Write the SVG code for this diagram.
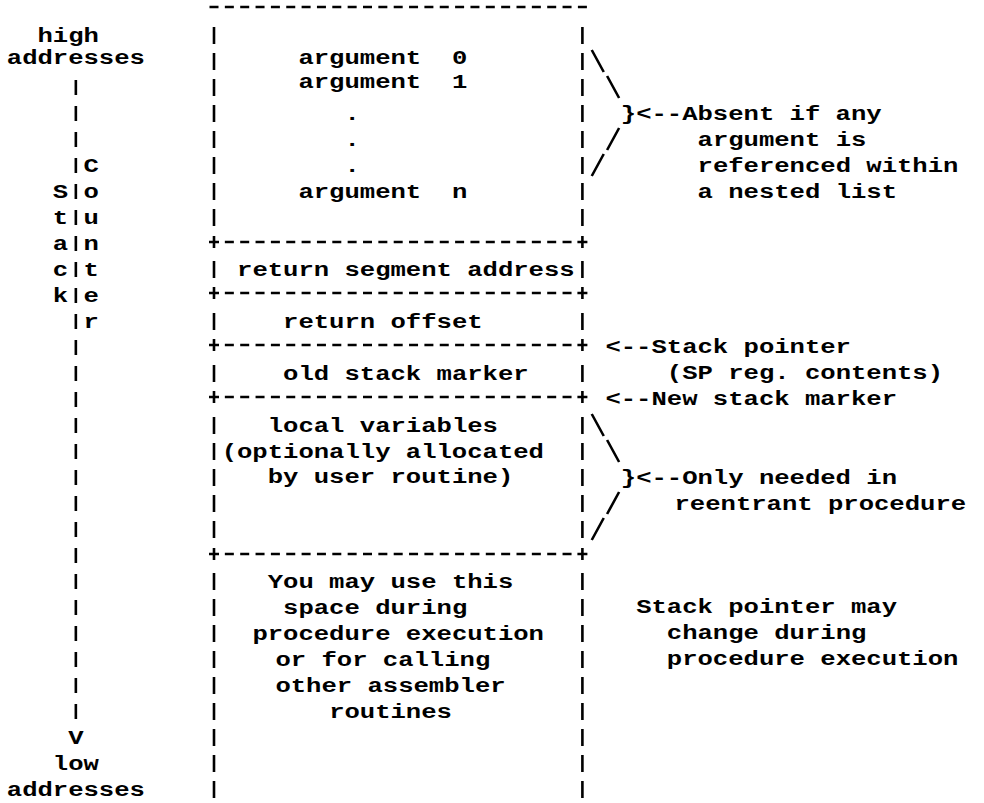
<svg xmlns="http://www.w3.org/2000/svg" width="984" height="803" viewBox="0 0 984 803">
<style>
.t{font-family:"Liberation Mono","DejaVu Sans Mono",monospace;font-size:20px;font-weight:bold;fill:#000;white-space:pre}
.ln{stroke:#000;stroke-width:2.6;fill:none}
.dash{stroke:#000;stroke-width:2.6;fill:none;stroke-dasharray:9 6.35}
.axis{stroke:#000;stroke-width:2.6;fill:none;stroke-dasharray:15 11}
</style>
<defs>
<path id="border" class="ln" d="M0 27V44M0 53V70M0 79V96M0 105V122M0 131V148M0 157V174M0 183V200M0 209V226M0 261V278M0 313V330M0 365V382M0 417V434M0 443V460M0 469V486M0 495V512M0 521V538M0 573V590M0 599V616M0 625V642M0 651V668M0 677V694M0 703V720M0 729V746M0 755V772M0 781V798"/>
<path id="plus" class="ln" d="M-5 0H5M0 -6V6"/>
</defs>
<rect width="984" height="803" fill="#fff"/>

<g id="address-axis">
<text class="t" transform="matrix(1.279 0 0 1 37.48 42)">high</text>
<text class="t" transform="matrix(1.279 0 0 1 6.78 64)">addresses</text>
<text class="t" transform="matrix(1.279 0 0 1 83.53 172)">C</text>
<text class="t" xml:space="preserve" transform="matrix(1.279 0 0 1 52.83 198)">S o</text>
<text class="t" xml:space="preserve" transform="matrix(1.279 0 0 1 52.83 224)">t u</text>
<text class="t" xml:space="preserve" transform="matrix(1.279 0 0 1 52.83 250)">a n</text>
<text class="t" xml:space="preserve" transform="matrix(1.279 0 0 1 52.83 276)">c t</text>
<text class="t" xml:space="preserve" transform="matrix(1.279 0 0 1 52.83 302)">k e</text>
<text class="t" transform="matrix(1.279 0 0 1 83.53 328)">r</text>
<text class="t" transform="matrix(1.279 0 0 1 68.18 744)">V</text>
<text class="t" transform="matrix(1.279 0 0 1 52.83 770)">low</text>
<text class="t" transform="matrix(1.279 0 0 1 6.78 796)">addresses</text>
</g>

<g id="stack-frame">
<g id="frame-outline">
<line class="dash" x1="209.5" y1="7" x2="586.9" y2="7"/>
<use href="#border" transform="translate(214 0)"/>
<use href="#border" transform="translate(582.4 0)"/>
<line class="dash" x1="224.85" y1="242" x2="571.55" y2="242"/>
<line class="dash" x1="224.85" y1="293" x2="571.55" y2="293"/>
<line class="dash" x1="224.85" y1="345" x2="571.55" y2="345"/>
<line class="dash" x1="224.85" y1="397" x2="571.55" y2="397"/>
<line class="dash" x1="224.85" y1="554" x2="571.55" y2="554"/>
<use href="#plus" transform="translate(214 242)"/><use href="#plus" transform="translate(582.4 242)"/>
<use href="#plus" transform="translate(214 293)"/><use href="#plus" transform="translate(582.4 293)"/>
<use href="#plus" transform="translate(214 345)"/><use href="#plus" transform="translate(582.4 345)"/>
<use href="#plus" transform="translate(214 397)"/><use href="#plus" transform="translate(582.4 397)"/>
<use href="#plus" transform="translate(214 554)"/><use href="#plus" transform="translate(582.4 554)"/>
</g>
<g id="cell-arguments">
<text class="t" xml:space="preserve" transform="matrix(1.279 0 0 1 298.43 64)">argument  0</text>
<text class="t" xml:space="preserve" transform="matrix(1.279 0 0 1 298.43 88)">argument  1</text>
<text class="t" transform="matrix(1.279 0 0 1 344.48 120)">.</text>
<text class="t" transform="matrix(1.279 0 0 1 344.48 146)">.</text>
<text class="t" transform="matrix(1.279 0 0 1 344.48 172)">.</text>
<text class="t" xml:space="preserve" transform="matrix(1.279 0 0 1 298.43 198)">argument  n</text>
</g>
<g id="cell-return-segment">
<text class="t" transform="matrix(1.279 0 0 1 237.03 276)">return segment address</text>
</g>
<g id="cell-return-offset">
<text class="t" transform="matrix(1.279 0 0 1 283.08 328)">return offset</text>
</g>
<g id="cell-old-stack-marker">
<text class="t" transform="matrix(1.279 0 0 1 283.08 380)">old stack marker</text>
</g>
<g id="cell-local-variables">
<text class="t" transform="matrix(1.279 0 0 1 267.73 432)">local variables</text>
<text class="t" transform="matrix(1.279 0 0 1 221.68 458)">(optionally allocated</text>
<text class="t" transform="matrix(1.279 0 0 1 267.73 483)">by user routine)</text>
</g>
<g id="cell-free-space">
<text class="t" transform="matrix(1.279 0 0 1 267.73 588)">You may use this</text>
<text class="t" transform="matrix(1.279 0 0 1 283.08 614)">space during</text>
<text class="t" transform="matrix(1.279 0 0 1 252.38 640)">procedure execution</text>
<text class="t" transform="matrix(1.279 0 0 1 275.41 666)">or for calling</text>
<text class="t" transform="matrix(1.279 0 0 1 275.41 692)">other assembler</text>
<text class="t" transform="matrix(1.279 0 0 1 329.13 718)">routines</text>
</g>
</g>

<g id="note-absent">
<text class="t" transform="matrix(1.279 0 0 1 620.78 120)">}&lt;--Absent if any</text>
<text class="t" transform="matrix(1.279 0 0 1 697.53 146)">argument is</text>
<text class="t" transform="matrix(1.279 0 0 1 697.53 172)">referenced within</text>
<text class="t" transform="matrix(1.279 0 0 1 697.53 198)">a nested list</text>
</g>
<g id="note-stack-pointer">
<text class="t" transform="matrix(1.279 0 0 1 605.43 353)">&lt;--Stack pointer</text>
<text class="t" transform="matrix(1.279 0 0 1 666.83 379)">(SP reg. contents)</text>
</g>
<g id="note-new-marker">
<text class="t" transform="matrix(1.279 0 0 1 605.43 405)">&lt;--New stack marker</text>
</g>
<g id="note-reentrant">
<text class="t" transform="matrix(1.279 0 0 1 620.78 484)">}&lt;--Only needed in</text>
<text class="t" transform="matrix(1.279 0 0 1 674.5 510)">reentrant procedure</text>
</g>
<g id="note-sp-change">
<text class="t" transform="matrix(1.279 0 0 1 636.13 613)">Stack pointer may</text>
<text class="t" transform="matrix(1.279 0 0 1 666.83 639)">change during</text>
<text class="t" transform="matrix(1.279 0 0 1 666.83 665)">procedure execution</text>
</g>

<g id="connectors">
<line class="axis" x1="75.85" y1="80" x2="75.85" y2="719"/>
<path class="ln" d="M591.75 50L603.75 72M607.1 76L619.1 98M619.1 128L607.1 150M603.75 154L591.75 176"/>
<path class="ln" d="M591.75 414L603.75 436M607.1 440L619.1 462M619.1 492L607.1 514M603.75 518L591.75 540"/>
</g>
</svg>
